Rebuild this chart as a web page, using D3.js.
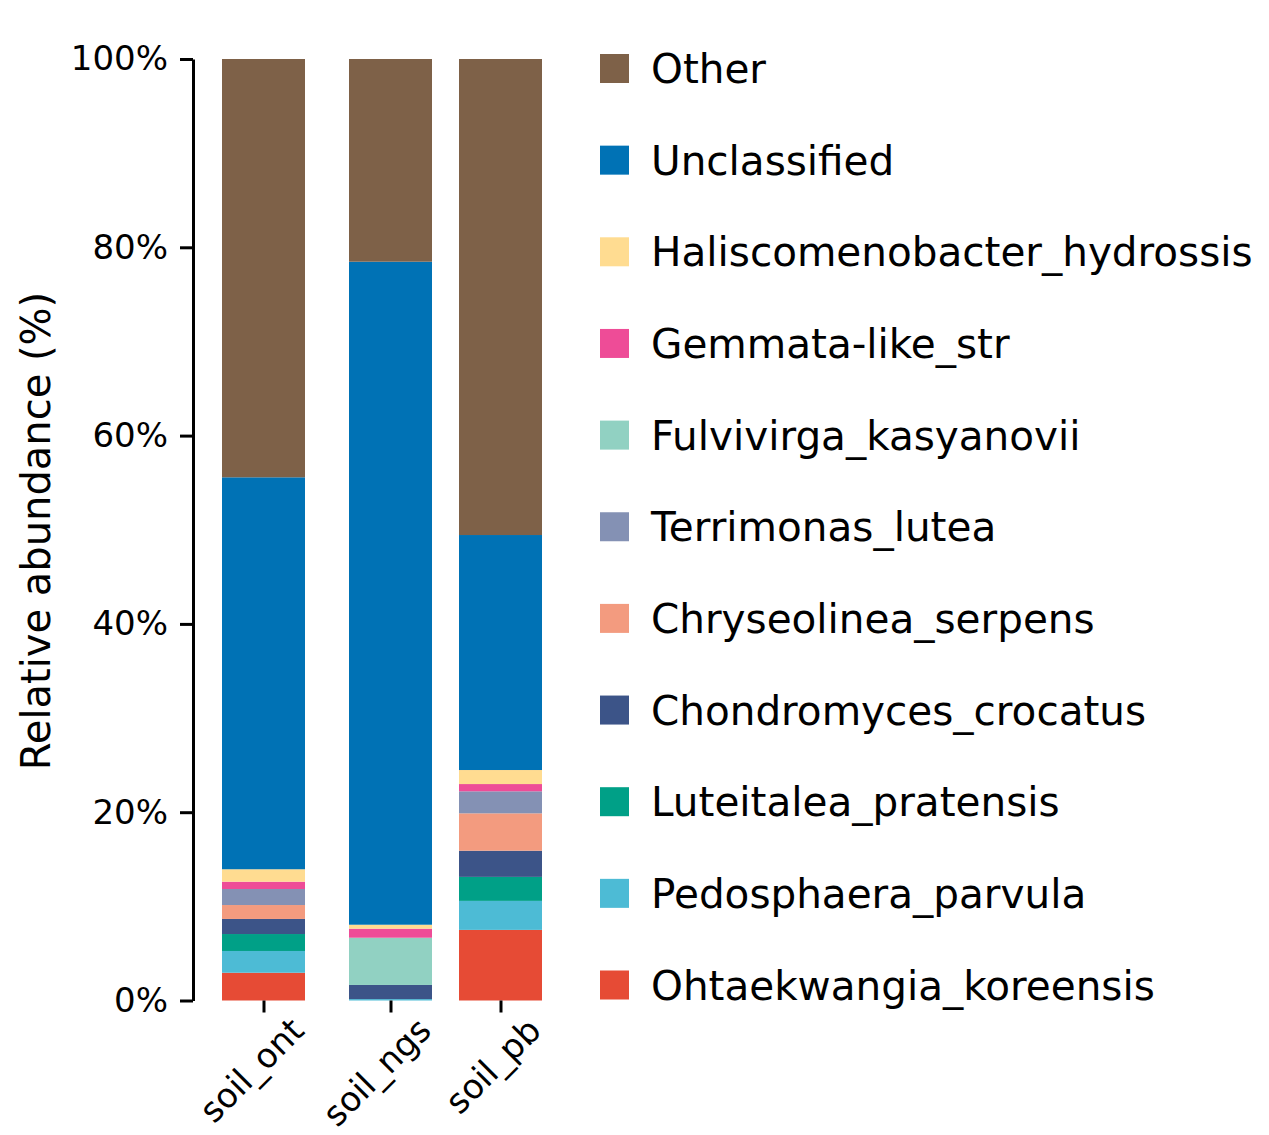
<!DOCTYPE html>
<html>
<head>
<meta charset="utf-8">
<script src="https://cdn.jsdelivr.net/npm/d3@7"></script>
<style>
  body { margin: 0; background: #fff; }
  text { font-family: "DejaVu Sans", sans-serif; fill: #000; }
</style>
</head>
<body>
<div id="chart"></div>
<script>
// samples and taxa (stack order: bottom -> top)
var samples = ["soil_ont", "soil_ngs", "soil_pb"];
var taxa = ["Ohtaekwangia_koreensis", "Pedosphaera_parvula", "Luteitalea_pratensis",
  "Chondromyces_crocatus", "Chryseolinea_serpens", "Terrimonas_lutea",
  "Fulvivirga_kasyanovii", "Gemmata-like_str", "Haliscomenobacter_hydrossis",
  "Unclassified", "Other"];
var taxaColors = ["#e64b35", "#4dbbd5", "#00a087", "#3c5488", "#f39b7f", "#8491b4",
  "#91d1c2", "#ee4c97", "#ffdc91", "#0072b5", "#7e6148"];

// relative abundance (%) per sample, same order as taxa
var soilOnt = [2.95, 2.31, 1.80, 1.60, 1.48, 1.70, 0, 0.78, 1.32, 41.63, 44.43];
var soilNgs = [0, 0.15, 0, 1.50, 0, 0, 5.02, 0.96, 0.42, 70.42, 21.53];
var soilPb = [7.50, 3.08, 2.55, 2.78, 3.97, 2.34, 0, 0.77, 1.49, 24.96, 50.56];

var yTicks = [0, 20, 40, 60, 80, 100];

var svgWidth = 1269, svgHeight = 1135;
var svg = d3.select("#chart").append("svg")
  .attr("width", svgWidth)
  .attr("height", svgHeight);

var table = [soilOnt, soilNgs, soilPb].map(function(vals, i) {
  var row = { sample: samples[i] };
  taxa.forEach(function(t, j) { row[t] = vals[j]; });
  return row;
});

var stacked = d3.stack().keys(taxa)(table);

var yScale = d3.scaleLinear().domain([0, 100]).range([1000.5, 59]);
var xScale = d3.scaleOrdinal().domain(samples).range([263.5, 390.5, 500.5]);
var color = d3.scaleOrdinal().domain(taxa).range(taxaColors);
var barWidth = 83;

// bars
svg.append("g").selectAll("g")
  .data(stacked)
  .enter().append("g")
  .attr("fill", d => color(d.key))
  .selectAll("rect")
  .data(d => d)
  .enter().append("rect")
  .attr("x", d => xScale(d.data.sample) - barWidth / 2)
  .attr("width", barWidth)
  .attr("y", d => yScale(d[1]))
  .attr("height", d => yScale(d[0]) - yScale(d[1]));

// y axis
var yAxis = svg.append("g")
  .attr("transform", "translate(193,0)")
  .call(d3.axisLeft(yScale).tickValues(yTicks).tickFormat(d => d + "%")
    .tickSize(13).tickSizeOuter(0).tickPadding(12));
yAxis.select(".domain").attr("stroke-width", 3).attr("stroke", "#000");
yAxis.selectAll(".tick line").attr("stroke-width", 3).attr("stroke", "#000");
yAxis.selectAll(".tick text")
  .style("font-family", "DejaVu Sans")
  .style("font-size", "34px");

// x axis
var xAxis = svg.append("g")
  .attr("transform", "translate(0,1000.5)")
  .call(d3.axisBottom(xScale).tickSize(12).tickSizeOuter(0));
xAxis.select(".domain").remove();
xAxis.selectAll(".tick line").attr("stroke-width", 3).attr("stroke", "#000");
xAxis.selectAll(".tick text")
  .attr("y", null).attr("dy", null)
  .attr("text-anchor", "end")
  .attr("transform", "translate(42,32) rotate(-45)")
  .style("font-family", "DejaVu Sans")
  .style("font-size", "34px");

// y label
svg.append("text")
  .attr("transform", "translate(50,531) rotate(-90)")
  .attr("text-anchor", "middle")
  .style("font-size", "40px")
  .text("Relative abundance (%)");

// legend
var legendItems = taxa.slice().reverse();
var legendY = d3.scalePoint().domain(legendItems).range([68.5, 985]);
var legend = svg.append("g").selectAll("g")
  .data(legendItems)
  .enter().append("g")
  .attr("transform", d => `translate(600, ${legendY(d)})`);

legend.append("rect")
  .attr("x", 0).attr("y", -14.5)
  .attr("width", 29).attr("height", 29)
  .attr("fill", d => color(d));

legend.append("text")
  .attr("x", 51)
  .attr("dy", "0.36em")
  .style("font-size", "40.5px")
  .text(d => d);
</script>
</body>
</html>
